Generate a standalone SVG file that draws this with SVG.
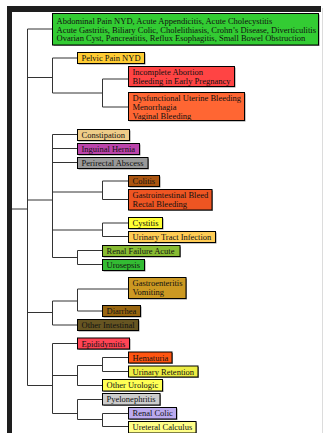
<svg xmlns="http://www.w3.org/2000/svg" width="325" height="433" viewBox="0 0 325 433">
<style>
.bx{stroke:#000;stroke-width:1}
.sh{fill:#8a8a8a}
.t{font-family:"Liberation Serif","Times New Roman",serif;font-size:8.5px;fill:#111}
.c{fill:none;stroke:#333;stroke-width:1}
</style>
<rect width="325" height="433" fill="#fff"/>
<g id="frame">
<rect x="7" y="6" width="314" height="6" fill="#1e1e1e"/>
<rect x="7" y="6" width="5" height="427" fill="#1e1e1e"/>
<line x1="322.5" y1="8" x2="322.5" y2="433" stroke="#dcdcdc" stroke-width="1"/>
</g>
<g id="connectors" class="c">
<path d="M12 209H27.5M27.5 29V385.5M27.5 29H52.5M27.5 77.5H52.5M27.5 200H52.5M27.5 312.5H52.5M27.5 385.5H52.5"/>
<path d="M52.5 58V93M52.5 58H77.5M52.5 93H102.5M102.5 79V107M102.5 79H128.5M102.5 107H128.5"/>
<path d="M52.5 134.5V257.5M52.5 134.5H77.5M52.5 148.5H77.5M52.5 162.5H77.5M52.5 192H102.5M102.5 181V199.5M102.5 181H128.5M102.5 199.5H128.5M52.5 230H102.5M102.5 223V236.5M102.5 223H128.5M102.5 236.5H128.5M52.5 257.5H77.5M77.5 250.5V264.5M77.5 250.5H102.5M77.5 264.5H102.5"/>
<path d="M52.5 301V325M52.5 301H77.5M77.5 289V311M77.5 289H128.5M77.5 311H102.5M52.5 325H77.5"/>
<path d="M52.5 343.5V413.5M52.5 343.5H77.5M52.5 375.5H77.5M77.5 365.5V385.5M77.5 365.5H102.5M102.5 357.5V371.5M102.5 357.5H128.5M102.5 371.5H128.5M77.5 385.5H102.5M52.5 413.5H77.5M77.5 399.5V419.5M77.5 399.5H102.5M77.5 419.5H102.5M102.5 413.5V426.5M102.5 413.5H128.5M102.5 426.5H128.5"/>
</g>
<g id="n1"><rect class="sh" x="53.5" y="14.5" width="266" height="31.5"/><rect class="bx" x="52.5" y="13.5" width="266" height="31.5" fill="#33cc33"/>
<text class="t" x="56.5" y="24">Abdominal Pain NYD, Acute Appendicitis, Acute Cholecystitis</text>
<text class="t" x="56.5" y="32.7">Acute Gastritis, Biliary Colic, Cholelithiasis, Crohn’s Disease, Diverticulitis</text>
<text class="t" x="56.5" y="41.4">Ovarian Cyst, Pancreatitis, Reflux Esophagitis, Small Bowel Obstruction</text></g>
<g id="n2"><rect class="sh" x="78.5" y="53.5" width="67" height="11"/><rect class="bx" x="77.5" y="52.5" width="67" height="11" fill="#ffcc33"/><text class="t" x="81.5" y="61">Pelvic Pain NYD</text></g>
<g id="n3"><rect class="sh" x="129.5" y="67.5" width="106" height="20"/><rect class="bx" x="128.5" y="66.5" width="106" height="20" fill="#ff4444"/>
<text class="t" x="132.5" y="75">Incomplete Abortion</text><text class="t" x="132.5" y="83.7">Bleeding in Early Pregnancy</text></g>
<g id="n4"><rect class="sh" x="129.5" y="93.5" width="116" height="28"/><rect class="bx" x="128.5" y="92.5" width="116" height="28" fill="#ff6633"/>
<text class="t" x="132.5" y="101.3">Dysfunctional Uterine Bleeding</text><text class="t" x="132.5" y="110.1">Menorrhagia</text><text class="t" x="132.5" y="118.9">Vaginal Bleeding</text></g>
<g id="n5"><rect class="sh" x="78.5" y="130.5" width="52" height="11"/><rect class="bx" x="77.5" y="129.5" width="52" height="11" fill="#eecc88"/><text class="t" x="81.5" y="138">Constipation</text></g>
<g id="n6"><rect class="sh" x="78.5" y="144.5" width="62" height="11"/><rect class="bx" x="77.5" y="143.5" width="62" height="11" fill="#bb44aa"/><text class="t" x="81.5" y="152">Inguinal Hernia</text></g>
<g id="n7"><rect class="sh" x="78.5" y="158.5" width="70.5" height="11"/><rect class="bx" x="77.5" y="157.5" width="70.5" height="11" fill="#999999"/><text class="t" x="81.5" y="166">Perirectal Abscess</text></g>
<g id="n8"><rect class="sh" x="129.5" y="176.5" width="31" height="11"/><rect class="bx" x="128.5" y="175.5" width="31" height="11" fill="#aa5511"/><text class="t" x="132.5" y="184">Colitis</text></g>
<g id="n9"><rect class="sh" x="129.5" y="190.5" width="83.5" height="20.5"/><rect class="bx" x="128.5" y="189.5" width="83.5" height="20.5" fill="#ee5522"/>
<text class="t" x="132.5" y="198.2">Gastrointestinal Bleed</text><text class="t" x="132.5" y="207">Rectal Bleeding</text></g>
<g id="n10"><rect class="sh" x="129.5" y="218.5" width="34" height="11"/><rect class="bx" x="128.5" y="217.5" width="34" height="11" fill="#ffff33"/><text class="t" x="132.5" y="226">Cystitis</text></g>
<g id="n11"><rect class="sh" x="129.5" y="232.5" width="87" height="11"/><rect class="bx" x="128.5" y="231.5" width="87" height="11" fill="#ffcc55"/><text class="t" x="132.5" y="240">Urinary Tract Infection</text></g>
<g id="n12"><rect class="sh" x="103.5" y="246.5" width="77.5" height="11"/><rect class="bx" x="102.5" y="245.5" width="77.5" height="11" fill="#88bb33"/><text class="t" x="106.5" y="254">Renal Failure Acute</text></g>
<g id="n13"><rect class="sh" x="103.5" y="260.5" width="42" height="11"/><rect class="bx" x="102.5" y="259.5" width="42" height="11" fill="#33bb33"/><text class="t" x="106.5" y="268">Urosepsis</text></g>
<g id="n14"><rect class="sh" x="129.5" y="278.5" width="57.5" height="21"/><rect class="bx" x="128.5" y="277.5" width="57.5" height="21" fill="#cc9922"/>
<text class="t" x="132.5" y="286.2">Gastroenteritis</text><text class="t" x="132.5" y="295.2">Vomiting</text></g>
<g id="n15"><rect class="sh" x="103.5" y="306.5" width="38" height="11"/><rect class="bx" x="102.5" y="305.5" width="38" height="11" fill="#996611"/><text class="t" x="106.5" y="314">Diarrhea</text></g>
<g id="n16"><rect class="sh" x="78.5" y="320.5" width="61" height="11"/><rect class="bx" x="77.5" y="319.5" width="61" height="11" fill="#665522"/><text class="t" x="81.5" y="328">Other Intestinal</text></g>
<g id="n17"><rect class="sh" x="78.5" y="339" width="52" height="11"/><rect class="bx" x="77.5" y="338" width="52" height="11" fill="#ff4455"/><text class="t" x="81.5" y="346.5">Epididymitis</text></g>
<g id="n18"><rect class="sh" x="129.5" y="353" width="43.5" height="11"/><rect class="bx" x="128.5" y="352" width="43.5" height="11" fill="#ff5511"/><text class="t" x="132.5" y="360.5">Hematuria</text></g>
<g id="n19"><rect class="sh" x="129.5" y="367" width="69.5" height="11"/><rect class="bx" x="128.5" y="366" width="69.5" height="11" fill="#eeee44"/><text class="t" x="132.5" y="374.5">Urinary Retention</text></g>
<g id="n20"><rect class="sh" x="103.5" y="380.5" width="60" height="11.5"/><rect class="bx" x="102.5" y="379.5" width="60" height="11.5" fill="#ffff55"/><text class="t" x="106.5" y="388.3">Other Urologic</text></g>
<g id="n21"><rect class="sh" x="103.5" y="394.5" width="57.5" height="11.5"/><rect class="bx" x="102.5" y="393.5" width="57.5" height="11.5" fill="#cccccc"/><text class="t" x="106.5" y="402.3">Pyelonephritis</text></g>
<g id="n22"><rect class="sh" x="129.5" y="408.5" width="48" height="11.5"/><rect class="bx" x="128.5" y="407.5" width="48" height="11.5" fill="#bbaaee"/><text class="t" x="132.5" y="416.3">Renal Colic</text></g>
<g id="n23"><rect class="sh" x="129.5" y="422.5" width="67.5" height="11.5"/><rect class="bx" x="128.5" y="421.5" width="67.5" height="11.5" fill="#ffff88"/><text class="t" x="132.5" y="430.3">Ureteral Calculus</text></g>
</svg>
